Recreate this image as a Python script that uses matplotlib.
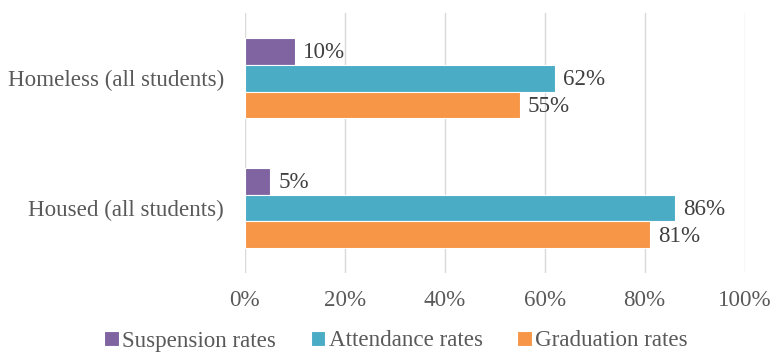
import matplotlib
matplotlib.use("Agg")
import matplotlib.pyplot as plt
import numpy as np

# Data
categories = ["Housed (all students)", "Homeless (all students)"]
series_names = ["Suspension rates", "Attendance rates", "Graduation rates"]
suspension = [5, 10]
attendance = [86, 62]
graduation = [81, 55]
x_ticks = [0, 20, 40, 60, 80, 100]
x_tick_labels = ["0%", "20%", "40%", "60%", "80%", "100%"]

colors = ["#8064A2", "#4BACC6", "#F79646"]

plt.rcParams["font.family"] = ["Liberation Serif", "DejaVu Serif"]
FS = 16.6

fig = plt.figure(figsize=(7.7, 3.52), dpi=100)
ax = fig.add_axes([0.318, 0.2244, 0.649, 0.738])

y = np.arange(len(categories))
h = 0.206
values = [suspension, attendance, graduation]
offsets = [h, 0.0, -h]

handles = []
for vals, off, col, name in zip(values, offsets, colors, series_names):
    bars = ax.barh(y + off, vals, height=h, color=col, edgecolor="white",
                   linewidth=0.8, label=name, zorder=3)
    handles.append(bars)
    for yy, v in zip(y + off, vals):
        ax.annotate(f"{v}%", xy=(v, yy), xytext=(6, -1), textcoords="offset points",
                    va="center", ha="left", fontsize=FS, color="#404040")

ax.set_xlim(0, 100)
ax.set_ylim(-0.5, 1.5)
ax.set_xticks(x_ticks)
ax.set_xticklabels(x_tick_labels)
ax.set_yticks(y)
ax.set_yticklabels(categories)
ax.tick_params(axis="both", length=0, labelsize=FS, colors="#595959")
ax.tick_params(axis="x", pad=12.5)
ax.tick_params(axis="y", pad=15)
ax.xaxis.grid(True, color="#D9D9D9", linewidth=1.0, zorder=0)
ax.set_axisbelow(True)
for s in ax.spines.values():
    s.set_visible(False)

leg = fig.legend(handles=handles, labels=series_names, loc="center",
                 bbox_to_anchor=(396 / 770, 1 - 341 / 352), ncol=3, frameon=False,
                 fontsize=FS, handlelength=0.63, handleheight=0.63,
                 handletextpad=0.15, columnspacing=1.5, borderpad=0, borderaxespad=0)
for t in leg.get_texts():
    t.set_color("#595959")

fig.savefig("out.png", dpi=100)
